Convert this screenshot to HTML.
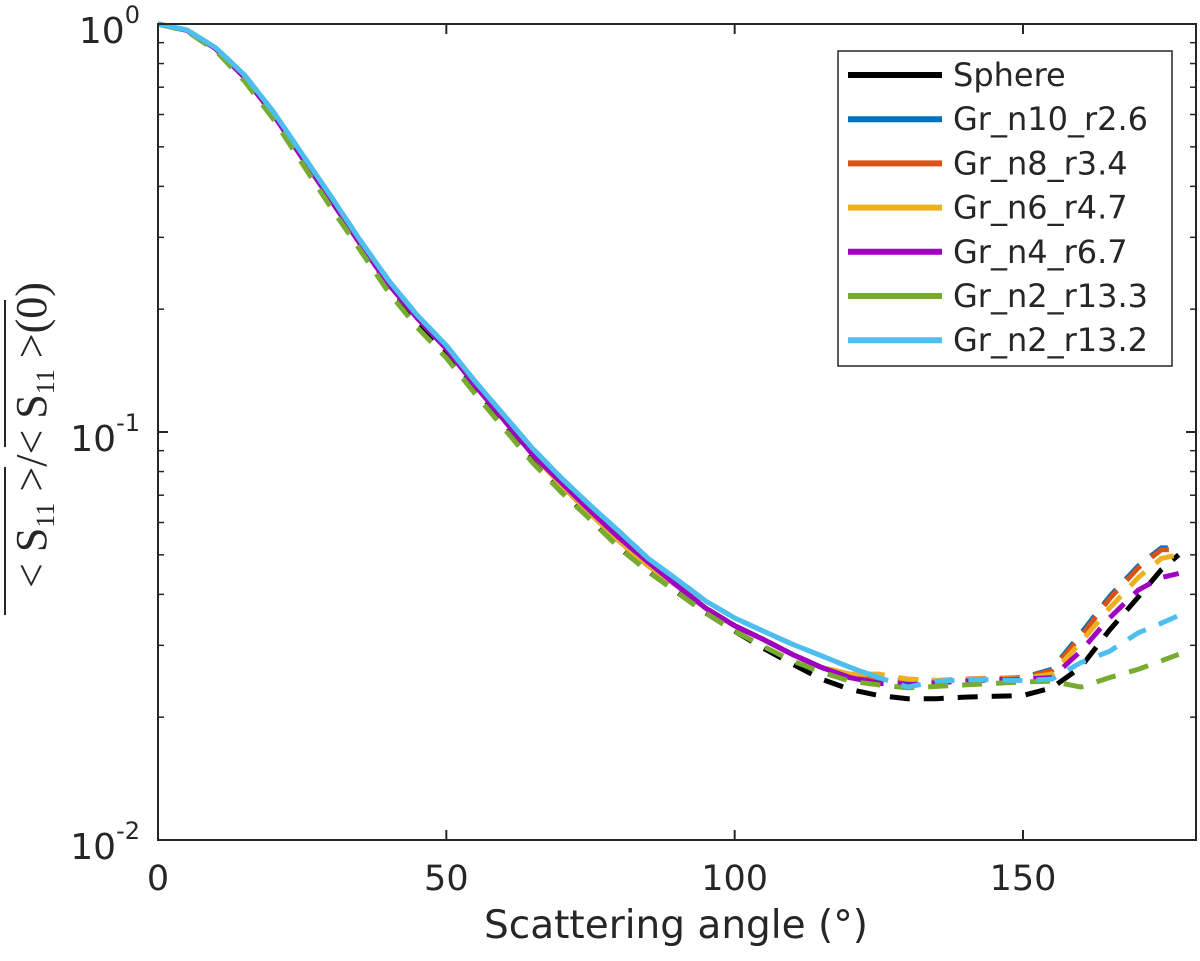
<!DOCTYPE html>
<html><head><meta charset="utf-8"><style>
body{margin:0;background:#fff;}
svg text{font-family:"DejaVu Sans","Liberation Sans",sans-serif;fill:#262626;}
</style></head><body>
<svg id="chart" width="1200" height="956" viewBox="0 0 1200 956" xmlns="http://www.w3.org/2000/svg">
<rect x="0" y="0" width="1200" height="956" fill="#fff"/>
<g id="series"></g>
<g id="axes"></g>
<text x="676" y="938" font-size="39" text-anchor="middle">Scattering angle (°)</text>
<g transform="translate(46,435) rotate(-90)">
<text x="0" y="0" text-anchor="middle" font-size="44" style="font-family:'Liberation Serif',serif"><tspan>&lt; S</tspan><tspan font-size="26" dy="8">11</tspan><tspan dy="-8"> &gt;</tspan><tspan>/</tspan><tspan>&lt; S</tspan><tspan font-size="26" dy="8">11</tspan><tspan dy="-8"> &gt;(0)</tspan></text>
<line x1="-180" y1="-41" x2="-32" y2="-41" stroke="#262626" stroke-width="2"/>
<line x1="-12" y1="-41" x2="135" y2="-41" stroke="#262626" stroke-width="2"/>
</g>
<g id="legend"></g>
</svg>
<script>
const angles=[0,5,10,15,20,25,30,35,40,45,50,55,60,65,70,75,80,85,90,95,100,105,110,115,120,125,130,135,140,145,150,155,160,165,170,174,177];
const seriesNames=["Sphere","Gr_n10_r2.6","Gr_n8_r3.4","Gr_n6_r4.7","Gr_n4_r6.7","Gr_n2_r13.3","Gr_n2_r13.2"];
const seriesColors=["#000000","#0072BD","#D95319","#EDB120","#A000C0","#77AC30","#4DBEEE"];
const sphereVals=[1,0.965,0.87,0.74,0.6,0.47,0.37,0.29,0.228,0.186,0.158,0.128,0.105,0.086,0.072,0.061,0.052,0.0455,0.0405,0.036,0.0325,0.0295,0.027,0.0248,0.0234,0.0226,0.0222,0.0222,0.0224,0.0225,0.0226,0.0236,0.0265,0.0327,0.0394,0.046,0.05];
const n10Vals=[1,0.965,0.87,0.74,0.6,0.47,0.37,0.29,0.23,0.19,0.16,0.13,0.107,0.088,0.074,0.063,0.054,0.047,0.042,0.037,0.0335,0.031,0.0285,0.0265,0.025,0.0247,0.0245,0.0245,0.0247,0.0248,0.025,0.0262,0.032,0.0395,0.047,0.052,0.052];
const n8Vals=[1,0.965,0.87,0.74,0.6,0.47,0.37,0.29,0.23,0.19,0.16,0.13,0.107,0.088,0.074,0.063,0.054,0.047,0.042,0.037,0.0335,0.031,0.0285,0.0265,0.0252,0.025,0.0248,0.0246,0.0248,0.0249,0.025,0.026,0.0315,0.039,0.0465,0.0515,0.0515];
const n6Vals=[1,0.965,0.87,0.74,0.6,0.47,0.37,0.29,0.23,0.19,0.16,0.13,0.107,0.088,0.074,0.063,0.054,0.047,0.042,0.037,0.0335,0.031,0.0285,0.0265,0.0255,0.0255,0.0248,0.0246,0.0247,0.0248,0.0249,0.0255,0.0305,0.037,0.044,0.049,0.05];
const n4Vals=[1,0.965,0.87,0.74,0.6,0.47,0.37,0.29,0.23,0.19,0.16,0.13,0.107,0.088,0.075,0.064,0.055,0.048,0.042,0.037,0.0335,0.031,0.0285,0.0265,0.025,0.0242,0.024,0.0243,0.0245,0.0247,0.0248,0.025,0.029,0.035,0.041,0.044,0.045];
const n2aVals=[1,0.96,0.86,0.725,0.585,0.455,0.355,0.28,0.22,0.18,0.152,0.124,0.102,0.084,0.071,0.061,0.052,0.0455,0.0405,0.036,0.0325,0.0298,0.0275,0.0258,0.0245,0.024,0.0236,0.0238,0.024,0.0242,0.0244,0.0245,0.0237,0.025,0.0262,0.0275,0.0285];
const n2bVals=[1,0.967,0.875,0.75,0.61,0.48,0.378,0.296,0.235,0.193,0.163,0.133,0.11,0.091,0.077,0.066,0.057,0.049,0.0435,0.0385,0.035,0.0325,0.0302,0.0283,0.0265,0.025,0.0237,0.0245,0.0247,0.0247,0.0246,0.0248,0.0272,0.029,0.0322,0.034,0.0355];
const seriesVals=[sphereVals,n10Vals,n8Vals,n6Vals,n4Vals,n2aVals,n2bVals];
const xTicks=[0,50,100,150];
const yTickExps=[0,-1,-2];

const L=158,R=1196,T=24,B=840,XMAX=180;
const xs=v=>L+(v/XMAX)*(R-L);
const ys=v=>T+(-Math.log10(v)/2)*(B-T);
const NS="http://www.w3.org/2000/svg";
function mk(tag,attrs,parent){const e=document.createElementNS(NS,tag);for(const k in attrs)e.setAttribute(k,attrs[k]);parent.appendChild(e);return e;}

const sg=document.getElementById('series');
seriesVals.forEach((vals,i)=>{
  const pts=angles.map((a,j)=>xs(a).toFixed(1)+','+ys(vals[j]).toFixed(1));
  const dashed=mk('polyline',{points:pts.join(' '),fill:'none',stroke:seriesColors[i],'stroke-width':5,'stroke-dasharray':'20,14'},sg);
  
  
  if(i!==0 && i!==5){
    const sp=[];angles.forEach((a,j)=>{if(a<=125)sp.push(xs(a).toFixed(1)+','+ys(vals[j]).toFixed(1));});
    const solid=mk('polyline',{points:sp.join(' '),fill:'none',stroke:seriesColors[i],'stroke-width':5},sg);
    
    
  }
});

const ax=document.getElementById('axes');
const box=mk('rect',{x:L,y:T,width:R-L,height:B-T,fill:'none',stroke:'#262626','stroke-width':2},ax);


xTicks.forEach(t=>{
  const x=xs(t);
  mk('line',{x1:x,y1:B,x2:x,y2:B-10,stroke:'#262626','stroke-width':2},ax);
  mk('line',{x1:x,y1:T,x2:x,y2:T+10,stroke:'#262626','stroke-width':2},ax);
  const tx=mk('text',{x:x,y:B+50,'font-size':35,'text-anchor':'middle'},ax);
  tx.textContent=t;
  
  
});
yTickExps.forEach(e=>{
  const y=ys(Math.pow(10,e));
  mk('line',{x1:L,y1:y,x2:L+10,y2:y,stroke:'#262626','stroke-width':2},ax);
  mk('line',{x1:R,y1:y,x2:R-10,y2:y,stroke:'#262626','stroke-width':2},ax);
  const tx=mk('text',{x:L-18,y:y+19,'font-size':36,'text-anchor':'end'},ax);
  tx.innerHTML='10<tspan font-size="24" dy="-20">'+e+'</tspan>';
  
  
  if(e>-2){for(let m=2;m<=9;m++){const yy=ys(m*Math.pow(10,e-1));
    mk('line',{x1:L,y1:yy,x2:L+6,y2:yy,stroke:'#262626','stroke-width':1.5},ax);
    mk('line',{x1:R,y1:yy,x2:R-6,y2:yy,stroke:'#262626','stroke-width':1.5},ax);}}
});

const lg=document.getElementById('legend');
const lb=mk('rect',{x:838,y:51,width:334,height:315,fill:'#fff',stroke:'#262626','stroke-width':1.5},lg);


seriesNames.forEach((n,i)=>{
  const y=75+i*44.2;
  const ln=mk('line',{x1:848,y1:y,x2:942,y2:y,stroke:seriesColors[i],'stroke-width':6},lg);
  
  
  const tx=mk('text',{x:953,y:y+11,'font-size':32},lg);
  tx.textContent=n;
  
  
});
</script>
</body></html>
